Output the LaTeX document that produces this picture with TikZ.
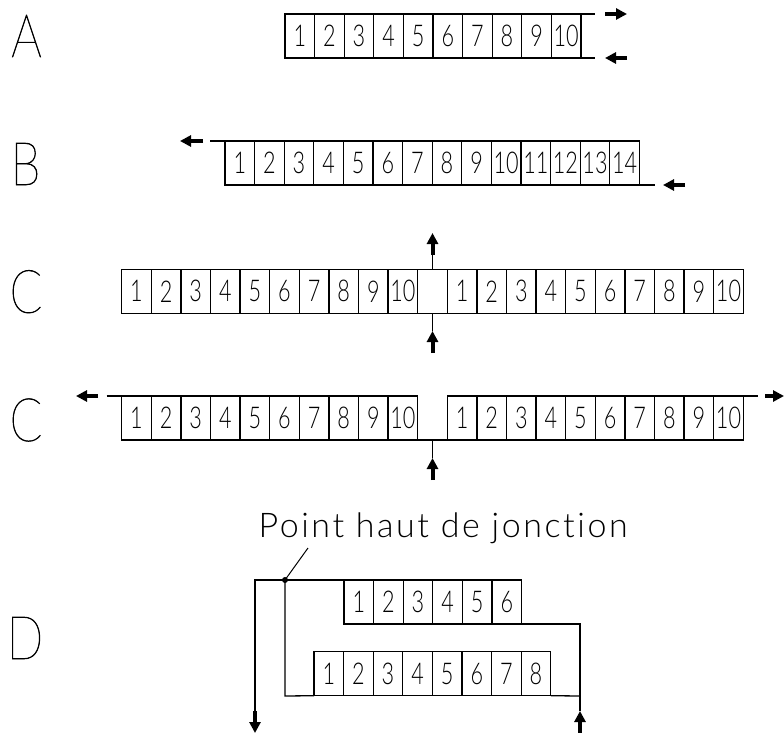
\documentclass[tikz,border=0pt]{standalone}
\usepackage{fontspec}
\setmainfont{Lato Light}
\newfontfamily\rowletterfont{Lato Thin}[FakeStretch=0.8, FakeBold=1]
\newfontfamily\cellfont{Lato Light}[FakeStretch=0.72]
\newfontfamily\notefont{Lato Light}[LetterSpace=7.5, Ligatures=NoCommon]
\usetikzlibrary{arrows.meta}

\tikzset{
  cell/.style={draw, minimum width=29.6pt, minimum height=44pt, inner sep=0pt,
    outer sep=0pt, anchor=north west, font=\cellfont\fontsize{30}{30}\selectfont},
  rowletter/.style={anchor=base, inner sep=0pt, font=\rowletterfont\fontsize{60}{60}\selectfont},
  flow/.style={line width=4pt, -{Triangle[length=11pt,width=11pt]}},
}

\begin{document}
\begin{tikzpicture}[x=1pt, y=-1pt, line width=1.3pt]
\useasboundingbox (0,0) rectangle (784,733);

% row labels
\node[rowletter] (lA) at (26.5,57) {A};
\node[rowletter] (lB) at (25.5,185) {B};
\node[rowletter] (lC) at (26,312.7) {C};
\node[rowletter] (lC2) at (26,441) {C};
\node[rowletter] (lD) at (25,659) {D};

% ---- A : ten places, open on the right
\foreach \i in {1,...,10}
  \node[cell] (a\i) at ({285+(\i-1)*29.6},14) {\i};
\coordinate (aTE) at (595,14);
\coordinate (aBE) at (595,58);
\draw (a10.north east) -- (aTE);
\draw (a10.south east) -- (aBE);
\coordinate (aO1) at (605,14);  \coordinate (aO2) at (627,14);
\coordinate (aI1) at (627,58);  \coordinate (aI2) at (605,58);
\draw[flow] (aO1) -- (aO2);
\draw[flow] (aI1) -- (aI2);

% ---- B : fourteen places, through flow
\foreach \i in {1,...,14}
  \node[cell] (b\i) at ({225+(\i-1)*29.6},141) {\i};
\coordinate (bTE) at (210,141);
\coordinate (bBE) at (655,185);
\draw (bTE) -- (b1.north west);
\draw (b14.south east) -- (bBE);
\coordinate (bO1) at (203,141); \coordinate (bO2) at (180,141);
\coordinate (bI1) at (685,185); \coordinate (bI2) at (663,185);
\draw[flow] (bO1) -- (bO2);
\draw[flow] (bI1) -- (bI2);

% ---- C : two blocks of ten, central feed
\foreach \i in {1,...,10}{
  \node[cell] (cl\i) at ({121.7+(\i-1)*29.6},269.3) {\i};
  \node[cell] (cr\i) at ({447.3+(\i-1)*29.6},269.3) {\i};
}
\draw (cl10.north east) -- (cr1.north west);
\draw (cl10.south east) -- (cr1.south west);
\coordinate (cMT) at (432.5,269.3);
\coordinate (cUp) at (432.5,255);
\coordinate (cUpTip) at (432.5,233);
\coordinate (cMB) at (432.5,313.3);
\coordinate (cDnTip) at (432.5,331);
\coordinate (cDnTail) at (432.5,353);
\draw (cMT) -- (cUp);
\draw[flow] (cUp) -- (cUpTip);
\draw (cMB) -- (cDnTip);
\draw[flow] (cDnTail) -- (cDnTip);

% ---- C : two blocks of ten, outflow on both ends
\foreach \i in {1,...,10}{
  \node[cell] (dl\i) at ({121.7+(\i-1)*29.6},396) {\i};
  \node[cell] (dr\i) at ({447.3+(\i-1)*29.6},396) {\i};
}
\coordinate (dTL) at (106.7,396);
\coordinate (dTR) at (758,396);
\draw (dTL) -- (dl1.north west);
\draw (dl10.south east) -- (dr1.south west);
\draw (dr10.north east) -- (dTR);
\coordinate (dMB) at (432.5,441);
\coordinate (dTip) at (432.5,458);
\coordinate (dTail) at (432.5,480);
\draw (dMB) -- (dTip);
\draw[flow] (dTail) -- (dTip);
\coordinate (dL1) at (98,396);  \coordinate (dL2) at (76,396);
\coordinate (dR1) at (765,396); \coordinate (dR2) at (784,396);
\draw[flow] (dL1) -- (dL2);
\draw[flow] (dR1) -- (dR2);

% ---- D : two stacked blocks with a high junction point
\node[anchor=base west, inner sep=0pt, font=\notefont\fontsize{34}{34}\selectfont]
  (note) at (258,537) {Point haut de jonction};
\foreach \i in {1,...,6}
  \node[cell] (e\i) at ({344+(\i-1)*29.6},580) {\i};
\foreach \i in {1,...,8}
  \node[cell] (f\i) at ({314+(\i-1)*29.6},651.7) {\i};
\coordinate (jDot) at (285,580);
\coordinate (jL) at (255,580);
\coordinate (jLdn) at (255,711);
\coordinate (jLtip) at (255,733);
\coordinate (jDB) at (285,696);
\coordinate (jRT) at (580,624);
\coordinate (jRB) at (580,696);
\coordinate (jRup) at (580,711);
\coordinate (jRtail) at (580,733);
\coordinate (lead) at (308,548);
\draw (e1.north west) -- (jDot) -- (jL) -- (jLdn);
\draw (jDot) -- (jDB) -- (f1.south west);
\draw (e6.south east) -- (jRT) -- (jRup);
\draw (f8.south east) -- (jRB);
\draw[flow] (jLdn) -- (jLtip);
\draw[flow] (jRtail) -- (jRup);
\fill (jDot) circle (3pt);
\draw[line width=1pt] (jDot) -- (lead);
\end{tikzpicture}
\end{document}
